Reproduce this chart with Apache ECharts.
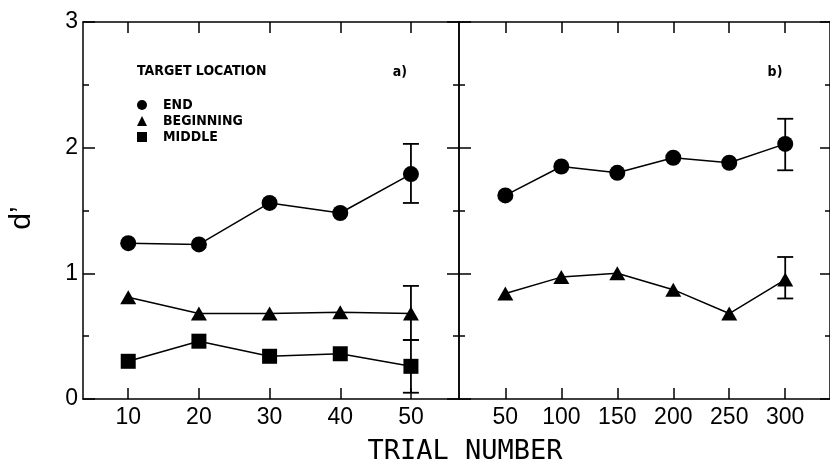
<!DOCTYPE html>
<html>
<head>
<meta charset="utf-8">
<script src="https://cdn.jsdelivr.net/npm/echarts@6/dist/echarts.min.js"></script>
<style>
html,body{margin:0;padding:0;background:#fff;}
#chart{width:830px;height:465px;}
</style>
</head>
<body>
<div id="chart"></div>
<script>
// ---- data ----
const leftTrials = [10, 20, 30, 40, 50];
const leftEnd = [1.24, 1.23, 1.56, 1.48, 1.79];
const leftBeginning = [0.81, 0.68, 0.68, 0.69, 0.68];
const leftMiddle = [0.30, 0.46, 0.34, 0.36, 0.26];
// error bars: [trial, low, high]
const leftErrEnd = [50, 1.56, 2.03];
const leftErrBeginning = [50, 0.47, 0.90];
const leftErrMiddle = [50, 0.05, 0.47];

const rightTrials = [50, 100, 150, 200, 250, 300];
const rightEnd = [1.62, 1.85, 1.80, 1.92, 1.88, 2.03];
const rightBeginning = [0.84, 0.97, 1.00, 0.87, 0.68, 0.95];
const rightErrEnd = [300, 1.82, 2.23];
const rightErrBeginning = [300, 0.80, 1.13];

const leftTicks = [10, 20, 30, 40, 50];
const rightTicks = [50, 100, 150, 200, 250, 300];
const yTicks = [0, 1, 2, 3];

const seriesNames = ['END', 'BEGINNING', 'MIDDLE'];
const panelLabels = ['a)', 'b)'];
const legendTitle = 'TARGET LOCATION';
const xTitle = 'TRIAL NUMBER';
const yTitle = 'd\u2019';

// ---- chart ----
const chart = echarts.init(document.getElementById('chart'), null, {renderer: 'canvas'});
const BLACK = '#000';
const numFont = 'Liberation Sans';
const legendFont = 'DejaVu Sans Condensed';

function pairs(xs, ys) { return xs.map((x, i) => [x, ys[i]]); }

function xAxisDef(gridIndex, pos, min, max, ticks, showLabel) {
  return {
    type: 'value', gridIndex: gridIndex, position: pos, min: min, max: max,
    axisLine: {show: true, onZero: false, lineStyle: {color: BLACK, width: 1.5}},
    axisTick: {show: true, inside: true, length: 11, customValues: ticks, lineStyle: {color: BLACK, width: 1.5}},
    axisLabel: {show: showLabel, customValues: ticks, margin: 7, color: BLACK,
      fontFamily: numFont, fontSize: 23},
    splitLine: {show: false}
  };
}
function yAxisDef(gridIndex, pos, showLabel, tickLen) {
  return {
    type: 'value', gridIndex: gridIndex, position: pos, min: 0, max: 3, interval: 1,
    axisLine: {show: true, onZero: false, lineStyle: {color: BLACK, width: 1.5}},
    axisTick: {show: true, inside: true, length: tickLen, lineStyle: {color: BLACK, width: 1.5}},
    minorTick: {show: true, splitNumber: 2, length: Math.round(tickLen / 2), lineStyle: {color: BLACK, width: 1.5}},
    axisLabel: {show: showLabel, margin: 5, color: BLACK, fontFamily: numFont, fontSize: 23,
      formatter: v => (yTicks.indexOf(v) >= 0 ? String(v) : '')},
    splitLine: {show: false}, minorSplitLine: {show: false}
  };
}

function renderErr(params, api) {
  const x = api.value(0), lo = api.value(1), hi = api.value(2);
  const pLo = api.coord([x, lo]);
  const pHi = api.coord([x, hi]);
  const hw = 8;
  const st = {stroke: BLACK, lineWidth: 1.8};
  return {
    type: 'group',
    children: [
      {type: 'line', shape: {x1: pLo[0], y1: pLo[1], x2: pHi[0], y2: pHi[1]}, style: st},
      {type: 'line', shape: {x1: pLo[0] - hw, y1: pLo[1], x2: pLo[0] + hw, y2: pLo[1]}, style: st},
      {type: 'line', shape: {x1: pHi[0] - hw, y1: pHi[1], x2: pHi[0] + hw, y2: pHi[1]}, style: st}
    ]
  };
}

function lineSeries(name, xi, yi, data, symbol, size) {
  return {
    type: 'line', name: name, xAxisIndex: xi, yAxisIndex: yi, data: data,
    symbol: symbol, symbolSize: size, showSymbol: true,
    lineStyle: {color: BLACK, width: 1.5}, itemStyle: {color: BLACK}, z: 3
  };
}
function errSeries(xi, yi, data) {
  return {
    type: 'custom', xAxisIndex: xi, yAxisIndex: yi, renderItem: renderErr,
    encode: {x: 0, y: [1, 2]}, data: data, z: 2, silent: true
  };
}

const textFont = 'bold 14px "' + legendFont + '"';

const option = {
  backgroundColor: '#fff',
  animation: false,
  grid: [
    {left: 83, top: 22, width: 376, height: 377},
    {left: 459, top: 22, width: 374, height: 377}
  ],
  xAxis: [
    xAxisDef(0, 'bottom', 3.6, 56.8, leftTicks, true),
    xAxisDef(0, 'top', 3.6, 56.8, leftTicks, false),
    xAxisDef(1, 'bottom', 8.6, 340, rightTicks, true),
    xAxisDef(1, 'top', 8.6, 340, rightTicks, false)
  ],
  yAxis: [
    yAxisDef(0, 'left', true, 12),
    yAxisDef(0, 'right', false, 12),
    yAxisDef(1, 'left', false, 12),
    yAxisDef(1, 'right', false, 10)
  ],
  legend: {
    orient: 'vertical', left: 137, top: 97, padding: 0, itemWidth: 10, itemHeight: 10, itemGap: 0,
    data: [
      {name: seriesNames[0], icon: 'circle'},
      {name: seriesNames[1], icon: 'triangle'},
      {name: seriesNames[2], icon: 'rect'}
    ],
    textStyle: {color: BLACK, fontFamily: legendFont, fontWeight: 'bold', fontSize: 14,
      lineHeight: 16, padding: [0, 0, 0, 11]},
    itemStyle: {color: BLACK}
  },
  graphic: [
    {type: 'text', left: 137, top: 64, style: {text: legendTitle, font: textFont, fill: BLACK}},
    {type: 'text', x: 400, y: 72, style: {text: panelLabels[0], font: textFont, fill: BLACK, align: 'center', verticalAlign: 'middle'}},
    {type: 'text', x: 775, y: 72, style: {text: panelLabels[1], font: textFont, fill: BLACK, align: 'center', verticalAlign: 'middle'}},
    {type: 'text', x: 465, y: 452, style: {text: xTitle, font: '27px "DejaVu Sans Mono"', fill: BLACK, align: 'center', verticalAlign: 'middle'}},
    {type: 'text', x: 22, y: 218, rotation: Math.PI / 2, style: {text: yTitle, font: '30px "Liberation Sans"', fill: BLACK, align: 'center', verticalAlign: 'middle'}}
  ],
  series: [
    lineSeries(seriesNames[0], 0, 0, pairs(leftTrials, leftEnd), 'circle', 16),
    lineSeries(seriesNames[1], 0, 0, pairs(leftTrials, leftBeginning), 'triangle', [16, 14]),
    lineSeries(seriesNames[2], 0, 0, pairs(leftTrials, leftMiddle), 'rect', 15),
    errSeries(0, 0, [leftErrEnd, leftErrBeginning, leftErrMiddle]),
    lineSeries(seriesNames[0], 2, 2, pairs(rightTrials, rightEnd), 'circle', 16),
    lineSeries(seriesNames[1], 2, 2, pairs(rightTrials, rightBeginning), 'triangle', [16, 14]),
    errSeries(2, 2, [rightErrEnd, rightErrBeginning])
  ]
};
chart.setOption(option);
</script>
</body>
</html>
